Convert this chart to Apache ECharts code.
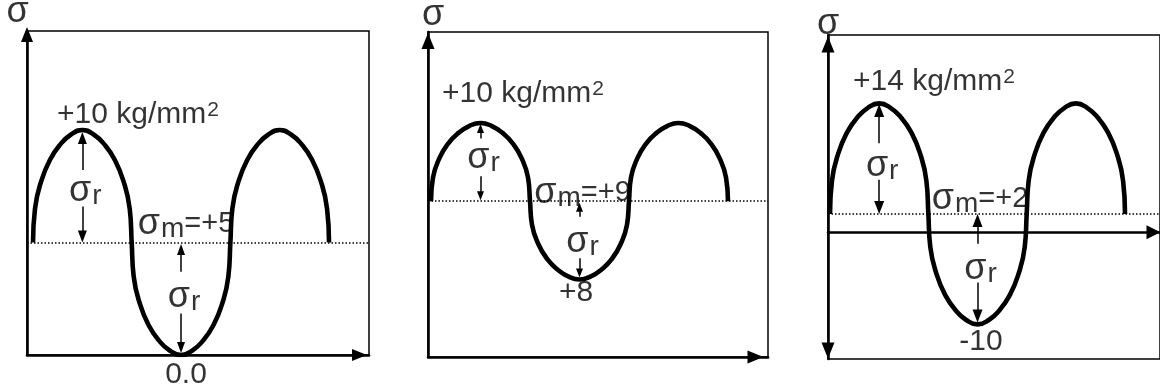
<!DOCTYPE html>
<html>
<head>
<meta charset="utf-8">
<script src="https://cdn.jsdelivr.net/npm/echarts@6/dist/echarts.min.js"></script>
<style>
  html, body { margin: 0; padding: 0; background: #fff; }
  #chart { width: 1160px; height: 389px; }
</style>
</head>
<body>
<div id="chart"></div>
<script>
// Phase of each sample along the load cycle, in quarter periods (0..6 = one and a half cycles)
const phase = [0, 0.04, 0.17, 0.35, 0.55, 0.77, 1, 1.23, 1.45, 1.65, 1.83, 1.96,
               2, 2.04, 2.17, 2.35, 2.55, 2.77, 3, 3.23, 3.45, 3.65, 3.83, 3.96,
               4, 4.04, 4.17, 4.35, 4.55, 4.77, 5, 5.23, 5.45, 5.65, 5.83, 5.96, 6];

// Stress σ (kg/mm²) at each phase sample for the three load cases
const stressPulsating = [5, 6.5, 7.75, 8.7, 9.35, 9.8, 10, 9.8, 9.35, 8.7, 7.75, 6.5,
                         5, 3.5, 2.25, 1.3, 0.65, 0.2, 0, 0.2, 0.65, 1.3, 2.25, 3.5,
                         5, 6.5, 7.75, 8.7, 9.35, 9.8, 10, 9.8, 9.35, 8.7, 7.75, 6.5, 5];
const stressFluctuating = [9, 9.3, 9.55, 9.74, 9.87, 9.96, 10, 9.96, 9.87, 9.74, 9.55, 9.3,
                           9, 8.7, 8.45, 8.26, 8.13, 8.04, 8, 8.04, 8.13, 8.26, 8.45, 8.7,
                           9, 9.3, 9.55, 9.74, 9.87, 9.96, 10, 9.96, 9.87, 9.74, 9.55, 9.3, 9];
const stressAlternating = [2, 5.6, 8.6, 10.88, 12.44, 13.52, 14, 13.52, 12.44, 10.88, 8.6, 5.6,
                           2, -1.6, -4.6, -6.88, -8.44, -9.52, -10, -9.52, -8.44, -6.88, -4.6, -1.6,
                           2, 5.6, 8.6, 10.88, 12.44, 13.52, 14, 13.52, 12.44, 10.88, 8.6, 5.6, 2];

// Mean, maximum and minimum stress of each case, and the texts printed for them
const meanStress = [5, 9, 2];
const maxStress = [10, 10, 14];
const minStress = [0, 8, -10];
const meanText = ['+5', '+9', '+2'];
const maxText = ['+10 kg/mm', '+10 kg/mm', '+14 kg/mm'];
const unitPower = ['2', '2', '2'];
const minText = ['0.0', '+8', '-10'];
// Phase of the first crest and of the trough, where the σr arrows stand
const crestPhase = [1, 1, 1];
const troughPhase = [3, 3, 3];

const curves = [stressPulsating, stressFluctuating, stressAlternating];

const FONT = '"Liberation Sans", Arial, Helvetica, sans-serif';
const INK = '#000';

// Frame, axis ranges and annotation placement of each diagram
const panels = [
  {
    rect: { left: 27, top: 31, width: 342, height: 324 },
    xRange: [-0.122, 6.81], yRange: [0, 14.4],
    yArrow: ['none', 'triangle'], yArrowSize: [12, 15], yArrowOffset: [0, -3.5],
    xArrowSize: [12, 15], xArrowOffset: [0, -9.5],
    axisName: [-9.5, -18.5],
    crestArrow: { ga: 0.355, gb: 0.68, gl: 0.56, ti: 2, bi: 0, head: [9, 12] },
    troughArrow: { ga: 0.26, gb: 0.63, gl: 0.5, ti: 1.5, bi: 2, head: [8, 11] },
    maxOffset: [-25.3, -15.6], meanOffset: [5, -18.6], minOffset: [5, 20]
  },
  {
    rect: { left: 428, top: 32, width: 340, height: 325 },
    xRange: [-0.0606, 6.808], yRange: [7.009, 11.162],
    yArrow: ['none', 'triangle'], yArrowSize: [13, 16], yArrowOffset: [0, -9],
    xArrowSize: [13, 16], xArrowOffset: [0, -12.5],
    axisName: [5, -17],
    crestArrow: { ga: 0.2, gb: 0.68, gl: 0.47, ti: 1, bi: 1, head: [7, 9] },
    troughArrow: { ga: 0.2, gb: 0.73, gl: 0.54, ti: 1.5, bi: 2, head: [7, 9] },
    maxOffset: [-38.5, -29.6], meanOffset: [3, -8.1], minOffset: [-3.5, 13.4]
  },
  {
    rect: { left: 828, top: 35, width: 332, height: 324 },
    xRange: [-0.0407, 6.711], yRange: [-13.76, 21.43],
    yArrow: ['triangle', 'triangle'], yArrowSize: [13, 16], yArrowOffset: [8.5, -9.5],
    xArrowSize: [14, 14], xArrowOffset: [0, -6.5],
    axisName: [0, -10.5],
    crestArrow: { ga: 0.36, gb: 0.69, gl: 0.58, ti: 0.5, bi: 0, head: [10, 13] },
    troughArrow: { ga: 0.27, gb: 0.62, gl: 0.515, ti: 0, bi: 2, head: [10, 13] },
    maxOffset: [-26.2, -22], meanOffset: [2.5, -14.6], minOffset: [3.5, 17]
  }
];

const rich = {
  s:   { fontFamily: FONT, fontSize: 36, lineHeight: 36, color: INK, verticalAlign: 'middle' },
  sub: { fontFamily: FONT, fontSize: 28, lineHeight: 28, color: INK, verticalAlign: 'middle', padding: [10, 0, 0, 1] },
  t:   { fontFamily: FONT, fontSize: 30, lineHeight: 30, color: INK, verticalAlign: 'middle' },
  tm:  { fontFamily: FONT, fontSize: 29, lineHeight: 29, color: INK, verticalAlign: 'middle' },
  sup: { fontFamily: FONT, fontSize: 21, lineHeight: 21, color: INK, verticalAlign: 'middle', padding: [0, 0, 9, 1] }
};

function pxPerUnit(p) {
  return p.rect.height / (p.yRange[1] - p.yRange[0]);
}

// Two arrows between a top value and a bottom value, leaving a gap for the σr text
function arrowPair(p, t, top, bottom, g) {
  const k = pxPerUnit(p);
  const span = bottom - top;
  const head = { symbol: 'triangle', symbolSize: g.head };
  return [
    [{ coord: [t, top + span * g.ga], symbol: 'none' },
     Object.assign({ coord: [t, top - (g.head[1] / 2 + g.ti) / k] }, head)],
    [{ coord: [t, top + span * g.gb], symbol: 'none' },
     Object.assign({ coord: [t, bottom + (g.head[1] / 2 + g.bi) / k] }, head)]
  ];
}

function note(value, text, align, offset) {
  return {
    value: value,
    label: {
      show: true, position: 'inside', formatter: text, align: align,
      verticalAlign: 'middle', offset: offset, rich: rich
    }
  };
}

const grids = [], xAxes = [], yAxes = [], series = [];

panels.forEach(function (p, i) {
  const mean = meanStress[i], hi = maxStress[i], lo = minStress[i];
  const tc = crestPhase[i], tt = troughPhase[i];

  grids.push(Object.assign({
    show: true, borderColor: INK, borderWidth: 1.5, backgroundColor: 'transparent',
    outerBoundsMode: 'none', containLabel: false
  }, p.rect));

  xAxes.push({
    gridIndex: i, type: 'value', min: p.xRange[0], max: p.xRange[1],
    axisLine: {
      show: true, onZero: true,
      symbol: ['none', 'triangle'], symbolSize: p.xArrowSize, symbolOffset: p.xArrowOffset,
      lineStyle: { color: INK, width: 2.6 }
    },
    axisTick: { show: false }, axisLabel: { show: false }, splitLine: { show: false }
  });

  yAxes.push({
    gridIndex: i, type: 'value', min: p.yRange[0], max: p.yRange[1],
    axisLine: {
      show: true, onZero: false,
      symbol: p.yArrow, symbolSize: p.yArrowSize, symbolOffset: p.yArrowOffset,
      lineStyle: { color: INK, width: 2.6 }
    },
    axisTick: { show: false }, axisLabel: { show: false }, splitLine: { show: false }
  });

  // dotted line at the mean stress
  const meanLine = { yAxis: mean, symbol: 'none', lineStyle: { type: [1.5, 2], width: 1.5, color: INK } };

  const arrows = arrowPair(p, tc, hi, mean, p.crestArrow)
    .concat(arrowPair(p, tt, mean, lo, p.troughArrow));

  series.push({
    type: 'line', xAxisIndex: i, yAxisIndex: i,
    data: phase.map(function (t, j) { return [t, curves[i][j]]; }),
    smooth: 0.5,
    showSymbol: false, symbol: 'none',
    lineStyle: { color: INK, width: 4.6, cap: 'butt', join: 'round' },
    silent: true, animation: false,
    markLine: {
      silent: true, animation: false,
      symbol: ['none', 'none'],
      label: { show: false },
      emphasis: { disabled: true },
      lineStyle: { color: INK, width: 1.5, type: 'solid' },
      data: [meanLine].concat(arrows)
    }
  });

  const kc = p.crestArrow, kt = p.troughArrow;
  series.push({
    type: 'scatter', xAxisIndex: i, yAxisIndex: i,
    symbolSize: 0, clip: false, silent: true, animation: false,
    itemStyle: { color: INK },
    data: [
      note([p.xRange[0], p.yRange[1]], '{s|σ}', 'center', p.axisName),
      note([tc, hi], '{t|' + maxText[i] + '}{sup|' + unitPower[i] + '}', 'left', p.maxOffset),
      note([tc, hi + (mean - hi) * kc.gl], '{s|σ}{sub|r}', 'center', [3, -1.5]),
      note([tt, mean], '{s|σ}{sub|m}{tm|=' + meanText[i] + '}', 'center', p.meanOffset),
      note([tt, mean + (lo - mean) * kt.gl], '{s|σ}{sub|r}', 'center', [3, -1.5]),
      note([tt, lo], '{t|' + minText[i] + '}', 'center', p.minOffset)
    ]
  });
});

const chart = echarts.init(document.getElementById('chart'), null, { renderer: 'canvas' });
chart.setOption({
  animation: false,
  backgroundColor: '#fff',
  grid: grids,
  xAxis: xAxes,
  yAxis: yAxes,
  series: series
});
</script>
</body>
</html>
